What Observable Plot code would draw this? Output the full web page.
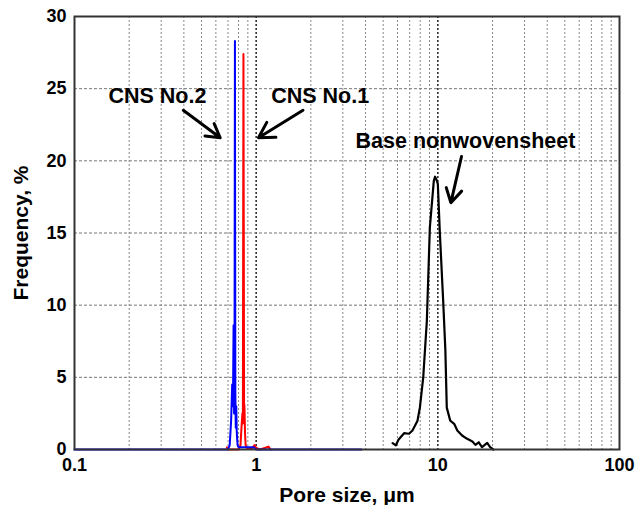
<!DOCTYPE html>
<html>
<head>
<meta charset="utf-8">
<script src="https://cdn.jsdelivr.net/npm/d3@7"></script>
<script src="https://cdn.jsdelivr.net/npm/@observablehq/plot@0.6"></script>
<style>
  html, body { margin: 0; padding: 0; background: #fff; }
  #chart svg { display: block; }
</style>
</head>
<body>
<div id="chart"></div>
<script>
// Tick labels / grid
const xTicks = [0.1, 1, 10, 100];
const xMinorGrid = [0.2,0.3,0.4,0.5,0.6,0.7,0.8,0.9, 2,3,4,5,6,7,8,9, 20,30,40,50,60,70,80,90];
const xMajorGrid = [1, 10];
const yTicks = [0, 5, 10, 15, 20, 25, 30];
const yGrid = [5, 10, 15, 20, 25];
const xTitle = "Pore size, μm";
const yTitle = "Frequency, %";

// CNS No.2 (blue)
const cns2Size = [0.1,0.70,0.715,0.728,0.738,0.745,0.751,0.756,0.760,0.764,0.768,0.772,0.777,0.782,0.79,0.80,0.90,0.97,1.0,3.8];
const cns2Freq = [0,0,0.3,2.0,4.5,3.0,8.6,2.5,5.5,28.3,4.0,1.5,3.0,1.2,0.3,0.15,0.15,0.15,0,0];

// CNS No.1 (red)
const cns1Size = [0.69,0.70,0.80,0.82,0.83,0.84,0.845,0.851,0.854,0.858,0.862,0.868,0.875,0.89,0.95,0.98,1.0,1.05,1.17,1.2];
const cns1Freq = [0.15,0,0,0.3,1.5,2.5,1.8,27.4,17,3.2,3.0,1.2,0.3,0.1,0.1,0.3,0.1,0,0.2,0];

// Base nonwovensheet (black)
const baseSize = [5.64,5.87,6.07,6.52,6.94,7.25,7.73,7.97,8.31,8.7,9.04,9.5,9.65,9.83,10.0,10.26,10.7,11.0,11.2,11.7,12.3,12.8,13.6,14.5,15.5,16.1,16.8,17.5,18.7,19.4,20.2];
const baseFreq = [0.44,0.28,0.67,1.13,1.09,1.32,2.0,2.93,5.0,8.9,15.4,18.6,18.9,18.7,18.4,15.0,10.3,6.9,2.9,2.0,1.78,1.32,0.97,0.74,0.55,0.32,0.5,0.16,0.46,0.16,0];

// Annotations
const labelText = ["CNS No.2", "CNS No.1", "Base nonwovensheet"];
const labelX = [0.286, 2.25, 14.2];
const labelY = [24.5, 24.5, 21.4];
const arrowX1 = [0.397, 1.81, 13.5];
const arrowY1 = [23.5, 23.5, 20.3];
const arrowX2 = [0.634, 1.03, 11.8];
const arrowY2 = [21.6, 21.6, 17.1];

const toPts = (xs, ys) => xs.map((x, i) => ({x, y: ys[i]}));
const cns2 = toPts(cns2Size, cns2Freq);
const cns1 = toPts(cns1Size, cns1Freq);
const base = toPts(baseSize, baseFreq);
const labels = labelText.map((t, i) => ({t, x: labelX[i], y: labelY[i]}));
const arrows = arrowX1.map((x1, i) => ({x1, y1: arrowY1[i], x2: arrowX2[i], y2: arrowY2[i]}));

const chart = Plot.plot({
  width: 636,
  height: 505,
  marginLeft: 74,
  marginTop: 16,
  marginRight: 17,
  marginBottom: 56,
  style: {fontFamily: "Arial, 'Liberation Sans', sans-serif", fontSize: "18px", fontWeight: "bold", color: "#000", background: "#fff"},
  x: {type: "log", domain: [0.1, 100]},
  y: {domain: [0, 30]},
  marks: [
    Plot.ruleX(xMinorGrid, {stroke: "#888", strokeWidth: 1, strokeDasharray: "2,2"}),
    Plot.ruleX(xMajorGrid, {stroke: "#222", strokeWidth: 1.5, strokeDasharray: "2,2"}),
    Plot.ruleY(yGrid, {stroke: "#777", strokeWidth: 1, strokeDasharray: "3,2"}),
    Plot.line(cns1, {x: "x", y: "y", stroke: "#ff0000", strokeWidth: 2}),
    Plot.line(cns2, {x: "x", y: "y", stroke: "#0000ff", strokeWidth: 2}),
    Plot.line(base, {x: "x", y: "y", stroke: "#000", strokeWidth: 2.2}),
    Plot.arrow(arrows, {x1: "x1", y1: "y1", x2: "x2", y2: "y2", stroke: "#000", strokeWidth: 3, headLength: 12}),
    Plot.text(labels, {x: "x", y: "y", text: "t", fontSize: 21.5, fontWeight: "bold", fill: "#000"}),
    Plot.frame({stroke: "#333", strokeWidth: 2}),
    Plot.axisX({ticks: xTicks, tickFormat: d => String(d), tickSize: 0, tickPadding: 9, label: null}),
    Plot.axisY({ticks: yTicks, tickSize: 0, tickPadding: 8, label: null}),
    Plot.text([xTitle], {frameAnchor: "bottom", dy: 46, lineAnchor: "middle", textAnchor: "middle", text: d => d, fontSize: 21, fontWeight: "bold", fill: "#000"}),
    Plot.text([yTitle], {frameAnchor: "left", dx: -53, rotate: -90, textAnchor: "middle", lineAnchor: "middle", text: d => d, fontSize: 21, fontWeight: "bold", fill: "#000"})
  ]
});
document.getElementById("chart").appendChild(chart);
</script>
</body>
</html>
